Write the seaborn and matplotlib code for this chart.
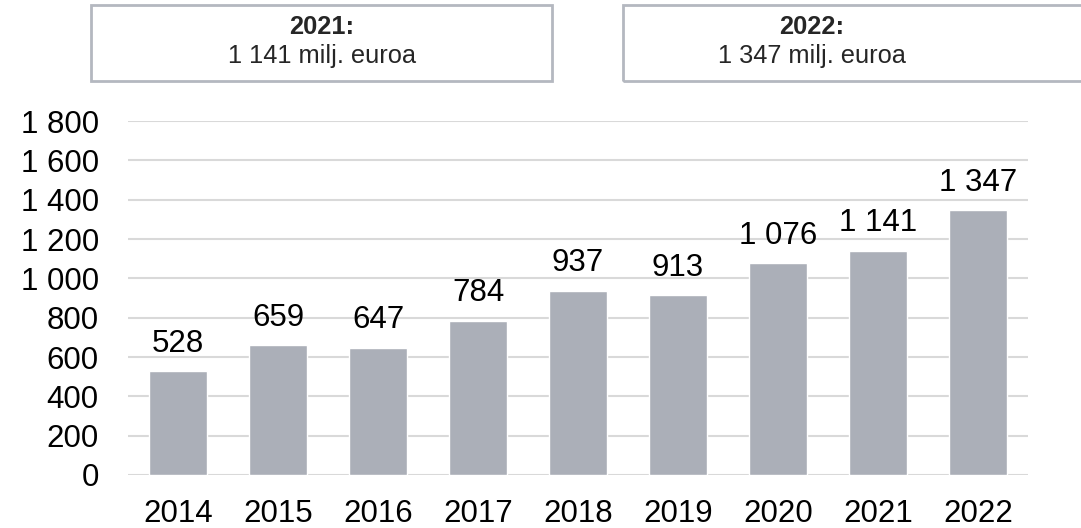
import matplotlib
matplotlib.use("Agg")
import matplotlib.pyplot as plt
import matplotlib.patches as mpatches
import seaborn as sns
import pandas as pd

years = ["2014", "2015", "2016", "2017", "2018", "2019", "2020", "2021", "2022"]
values = [528, 659, 647, 784, 937, 913, 1076, 1141, 1347]
y_ticks = [0, 200, 400, 600, 800, 1000, 1200, 1400, 1600, 1800]
box_titles = ["2021:", "2022:"]
box_texts = ["1 141 milj. euroa", "1 347 milj. euroa"]

sns.set_style("white")
plt.rcParams["font.family"] = ["Liberation Sans", "DejaVu Sans"]


def fmt(v):
    return f"{v:,}".replace(",", " ")


df = pd.DataFrame({"year": years, "value": values})

fig = plt.figure(figsize=(10.81, 5.28), dpi=100)
ax = fig.add_axes([128 / 1081, 1 - 475 / 528, 900 / 1081, 354 / 528])

sns.barplot(data=df, x="year", y="value", color="#ABAFB8", saturation=1,
            width=0.58, ax=ax, zorder=3)

ax.set_ylim(0, 1800)
ax.set_xlim(-0.5, len(years) - 0.5)
ax.set_yticks(y_ticks)
ax.set_yticklabels([fmt(t) for t in y_ticks])
ax.yaxis.grid(True, color="#D9D9D9", linewidth=1.5, zorder=0)
ax.set_axisbelow(True)
for s in ax.spines.values():
    s.set_visible(False)
ax.tick_params(axis="both", length=0, labelsize=22.5, colors="black")
ax.tick_params(axis="y", pad=21)
ax.tick_params(axis="x", pad=17)
ax.set_xlabel("")
ax.set_ylabel("")

for i, v in enumerate(values):
    ax.annotate(fmt(v), (i, v), xytext=(0, 9), textcoords="offset points",
                ha="center", va="bottom", fontsize=22.5, color="black")

# Summary boxes above the chart
boxes = [(91, 552, 322), (623, 1095, 812)]
for (x0, x1, xc), title, text in zip(boxes, box_titles, box_texts):
    rect = mpatches.Rectangle((x0 / 1081, 1 - 81 / 528), (x1 - x0) / 1081, 76 / 528,
                              transform=fig.transFigure, fill=False,
                              edgecolor="#B4B8C0", linewidth=2)
    fig.add_artist(rect)
    fig.text(xc / 1081, 1 - 27 / 528, title, ha="center", va="center",
             fontsize=18.3, fontweight="bold")
    fig.text(xc / 1081, 1 - 56 / 528, text, ha="center", va="center",
             fontsize=18.3)

fig.savefig("out.png", dpi=100)
